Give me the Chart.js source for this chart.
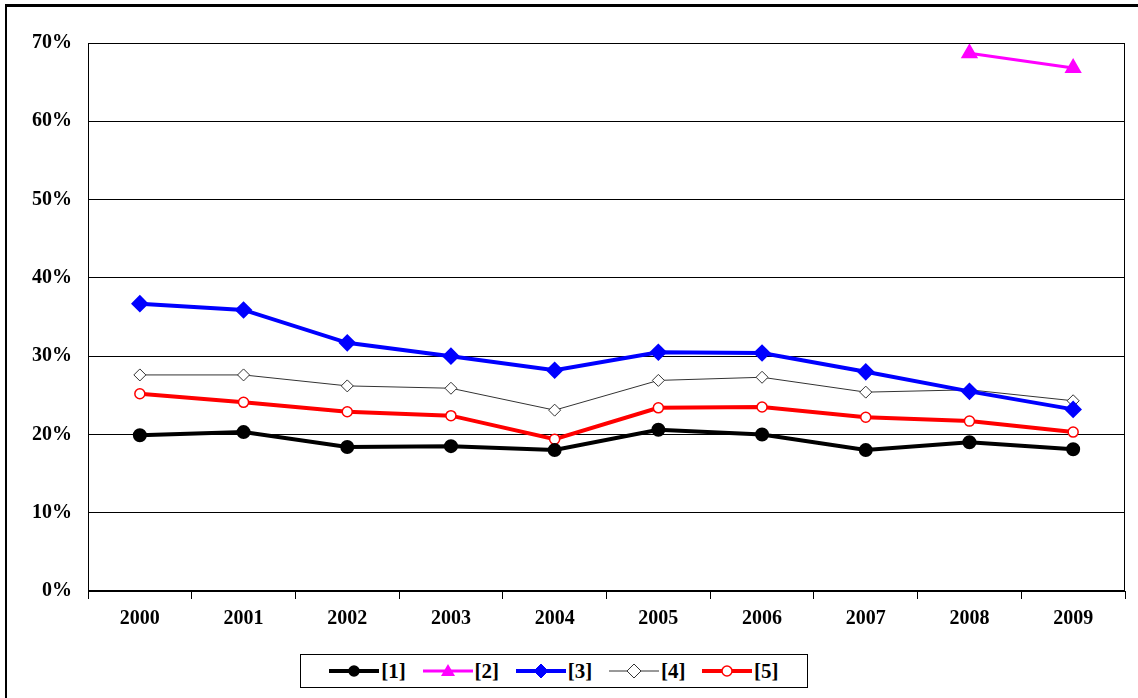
<!DOCTYPE html>
<html><head><meta charset="utf-8">
<script src="https://cdn.jsdelivr.net/npm/chart.js@4"></script>
<style>
html,body{margin:0;padding:0;background:#fff;}
#wrap{position:absolute;left:0;top:0;width:1138px;height:698px;overflow:hidden;}
#frame{position:absolute;left:5px;top:4px;width:1140px;height:700px;border-left:2px solid #000;border-top:3px solid #000;}
#legend{position:absolute;left:300px;top:654px;width:508px;height:34px;border:1px solid #000;background:#fff;display:flex;align-items:center;justify-content:space-around;padding:0 20px;box-sizing:border-box;font:bold 21px "Liberation Serif",serif;}
#legend span{display:flex;align-items:center;gap:2px;}
</style></head><body>
<div id="wrap">
<div id="frame"></div>
<canvas id="c" width="1138" height="698"></canvas>
<div id="legend"></div>
</div>
<script>
const categories=['2000','2001','2002','2003','2004','2005','2006','2007','2008','2009'];
const s1=[19.9,20.3,18.4,18.5,18.0,20.6,20.0,18.0,19.0,18.1];
const s2=[null,null,null,null,null,null,null,null,68.7,66.8];
const s3=[36.7,35.9,31.7,30.0,28.2,30.5,30.4,28.0,25.5,23.2];
const s4=[27.6,27.6,26.2,25.9,23.1,26.9,27.3,25.4,25.7,24.3];
const s5=[25.2,24.1,22.9,22.4,19.4,23.4,23.5,22.2,21.7,20.3];
const labels=['[1]','[2]','[3]','[4]','[5]'];
const yTicks=[0,10,20,30,40,50,60,70];

const sets=[
 {label:labels[0],data:s1,borderColor:'#000',backgroundColor:'#000',borderWidth:4,pointStyle:'circle',pointRadius:5},
 {label:labels[1],data:s2,borderColor:'#ff00ff',backgroundColor:'#ff00ff',borderWidth:3,pointStyle:'triangle',pointRadius:7},
 {label:labels[2],data:s3,borderColor:'#0000ff',backgroundColor:'#0000ff',borderWidth:4,pointStyle:'rectRot',pointRadius:6},
 {label:labels[3],data:s4,borderColor:'#333',backgroundColor:'#fff',borderWidth:1,pointStyle:'rectRot',pointRadius:6,pointBorderWidth:1},
 {label:labels[4],data:s5,borderColor:'#ff0000',backgroundColor:'#fff',borderWidth:4,pointStyle:'circle',pointRadius:5,pointBorderWidth:1.5}
];
sets.forEach(d=>{d.tension=0;d.spanGaps=false;d.fill=false;d.pointHoverRadius=d.pointRadius;});

const boxPlugin={id:'box',afterDatasetsDraw(ch){const a=ch.chartArea,c=ch.ctx;c.save();c.strokeStyle='#000';c.lineWidth=1;c.strokeRect(a.left+0.5,a.top+0.5,a.width-1,a.height-1);c.restore();}};

new Chart(document.getElementById('c'),{type:'line',
data:{labels:categories,datasets:sets},
plugins:[boxPlugin],
options:{responsive:false,animation:false,devicePixelRatio:1,
 layout:{padding:{left:16,right:13,top:43,bottom:59}},
 plugins:{legend:{display:false},tooltip:{enabled:false}},
 scales:{
  x:{offset:true,grid:{offset:true,drawOnChartArea:false,color:'#000',tickLength:8},border:{color:'#000'},
     ticks:{color:'#000',font:{family:'Liberation Serif',weight:'bold',size:20},padding:8}},
  y:{min:0,max:70,afterBuildTicks(ax){ax.ticks=yTicks.map(v=>({value:v}));},
     grid:{color:'#000',lineWidth:1,drawTicks:false},border:{color:'#000'},
     ticks:{color:'#000',padding:16,font:{family:'Liberation Serif',weight:'bold',size:20},callback:v=>v+'%'}}
 }}});

const lg=document.getElementById('legend');
sets.forEach(d=>{
 let m='';const col=d.borderColor;
 if(d.pointStyle==='circle') m=`<circle cx="25" cy="10" r="5" fill="${d.backgroundColor}" stroke="${col}" stroke-width="1.5"/>`;
 else if(d.pointStyle==='triangle') m=`<polygon points="25,3 32,15 18,15" fill="${col}"/>`;
 else m=`<polygon points="25,3 32,10 25,17 18,10" fill="${d.backgroundColor}" stroke="${col}" stroke-width="1"/>`;
 lg.insertAdjacentHTML('beforeend',`<span><svg width="50" height="20"><line x1="0" y1="10" x2="50" y2="10" stroke="${col}" stroke-width="${d.borderWidth}"/>${m}</svg>${d.label}</span>`);
});
</script>
</body></html>
